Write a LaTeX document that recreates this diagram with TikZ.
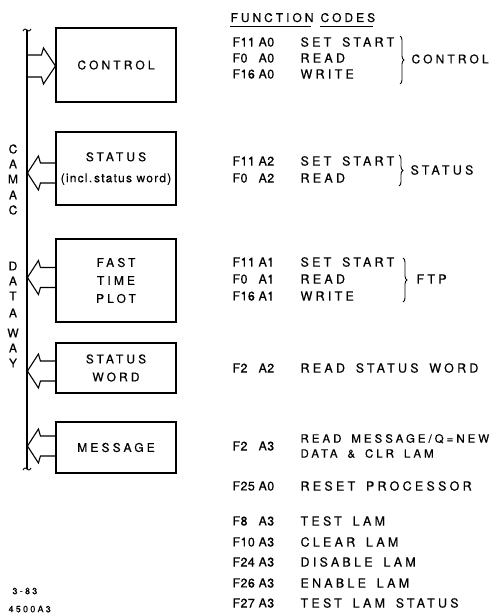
\documentclass[tikz,border=0pt]{standalone}
\usepackage{fontspec}
\setmainfont{TeX Gyre Heros}[LetterSpace=25,FakeBold=0.4]
\newfontfamily\descfont{TeX Gyre Heros}[LetterSpace=26,WordSpace=1.6,FakeBold=0.4]
\newfontfamily\codefont{TeX Gyre Heros}[LetterSpace=3,FakeBold=0.4]
\newfontfamily\lowfont{TeX Gyre Heros}[LetterSpace=10,FakeBold=0.4]
\usetikzlibrary{decorations.pathreplacing}
\newcommand\larrow[2]{\draw (#1.west) ++(0,#2) ++(0,-10) -- ++(-15,0) -- ++(-2,-7) -- ++(-11,17) -- ++(11,17) -- ++(2,-7) -- ++(15,0);}
\newcommand\crow[5]{\node[code] (#1f) at (232,#2) {\codefont #3}; \node[code] (#1a) at (258,#2) {\codefont #4}; \node[code] (#1t) at (300,#2) {\descfont #5};}
\begin{document}
\begin{tikzpicture}[x=1pt,y=-1pt,line width=1.1pt,
  every node/.style={inner sep=0pt, font=\fontsize{12.5}{18}\selectfont},
  box/.style={draw, minimum width=120pt, align=center, font=\fontsize{12}{18}\descfont},
  code/.style={anchor=west},
  brc/.style={decorate, decoration={brace, amplitude=4pt}, line width=0.9pt},
  tilde/.style={line width=0.9pt}]
\useasboundingbox (0,0) rectangle (494,615);

% boxes
\node[box, minimum height=74pt] (ctrl) at (116,65) {CONTROL};
\node[box, minimum height=73pt] (stat) at (116,168.5) {STATUS\\[3pt]{\lowfont (incl.\,status word)}};
\node[box, minimum height=83pt] (ftp) at (116,280.5) {FAST\\TIME\\PLOT};
\node[box, minimum height=50pt] (sw) at (116,368) {STATUS\\WORD};
\node[box, minimum height=51pt] (msg) at (116,447.5) {MESSAGE};

% bus
\coordinate (btop) at (27,30);
\coordinate (bbot) at (27,469);
\draw (btop) -- (bbot);
\draw[tilde] (btop) ++(-4,1) .. controls ++(1.5,-3) and ++(-1,-1) .. ++(4,-1) .. controls ++(1,1) and ++(-1.5,3) .. ++(4,-1);
\draw[tilde] (bbot) ++(-4,1) .. controls ++(1.5,-3) and ++(-1,-1) .. ++(4,-1) .. controls ++(1,1) and ++(-1.5,3) .. ++(4,-1);

% arrows
\draw (ctrl.west) ++(-29,-10) -- ++(15,0) -- ++(2,-7) -- ++(12,18) -- ++(-12,18) -- ++(-2,-7) -- ++(-15,0);
\larrow{stat}{4.5}
\larrow{ftp}{-3}
\larrow{sw}{3}
\larrow{msg}{-1.5}

% vertical text
\foreach \l/\y [count=\i] in {C/149,A/164,M/179,A/195,C/210,D/266,A/281,T/296,A/313,W/333,A/348,Y/363}
  \node[font=\fontsize{12}{14}\codefont] (v\i) at (13,\y) {\l};

% heading
\node[anchor=base west, font=\fontsize{12}{18}\selectfont] (fn) at (230,22) {FUNCTION};
\node[anchor=base west, font=\fontsize{12}{18}\selectfont] (cd) at ([xshift=6pt]fn.base east) {CODES};
\draw[line width=0.9pt] ([yshift=-4pt]fn.base west) -- ([yshift=-4pt,xshift=-3pt]fn.base east);
\draw[line width=0.9pt] ([yshift=-4pt]cd.base west) -- ([yshift=-4pt,xshift=-3pt]cd.base east);

% function code rows
\crow{c1}{42}{F11}{A0}{SET START}
\crow{c2}{58}{F0}{A0}{READ}
\crow{c3}{74}{F16}{A0}{WRITE}
\crow{s1}{161}{F11}{A2}{SET START}
\crow{s2}{178}{F0}{A2}{READ}
\crow{t1}{262}{F11}{A1}{SET START}
\crow{t2}{279}{F0}{A1}{READ}
\crow{t3}{296}{F16}{A1}{WRITE}
\crow{w1}{368}{F2}{A2}{READ STATUS WORD}
\node[code] (m1f) at (232,446) {\codefont F2};
\node[code] (m1a) at (258,446) {\codefont A3};
\node[code, align=left, font=\fontsize{11.5}{15}\descfont] (m1t) at (300,446) {READ MESSAGE/Q=NEW\\DATA \& CLR LAM};
\crow{r1}{486}{F25}{A0}{RESET PROCESSOR}
\crow{r2}{521}{F8}{A3}{TEST LAM}
\crow{r3}{542}{F10}{A3}{CLEAR LAM}
\crow{r4}{562}{F24}{A3}{DISABLE LAM}
\crow{r5}{583}{F26}{A3}{ENABLE LAM}
\crow{r6}{603}{F27}{A3}{TEST LAM STATUS}

% braces and group labels
\draw[brc] (400,36) -- (400,84);
\node[code, font=\fontsize{12}{18}\descfont] (lc) at (411,59) {CONTROL};
\draw[brc] (399,155) -- (399,186);
\node[code] (ls) at (410,170) {\descfont STATUS};
\draw[brc] (403,258) -- (403,302);
\node[code] (lf) at (416,279) {\descfont FTP};

% footer
\node[code, font=\fontsize{9}{11}\selectfont] (d1) at (12,591) {3-83};
\node[code, font=\fontsize{9}{11}\selectfont] (d2) at (8,609) {4500A3};
\end{tikzpicture}
\end{document}
